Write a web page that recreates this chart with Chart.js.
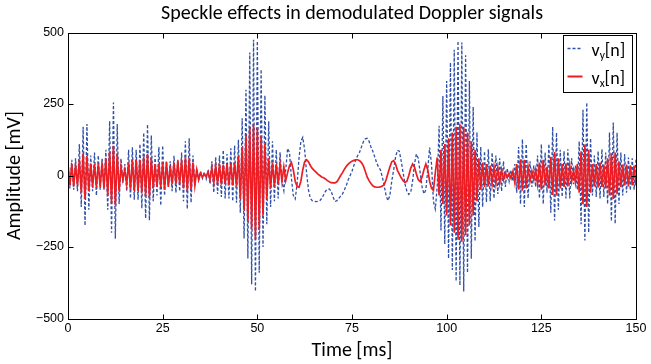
<!DOCTYPE html>
<html>
<head>
<meta charset="utf-8">
<title>Speckle effects in demodulated Doppler signals</title>
<script src="https://cdn.jsdelivr.net/npm/chart.js@4.4.1/dist/chart.umd.min.js"></script>
<style>
  html, body { margin: 0; padding: 0; background: #fff; }
  #wrap { width: 651px; height: 364px; }
</style>
</head>
<body>
<div id="wrap"><canvas id="dopplerChart" width="651" height="364"></canvas></div>
<script>
// --- Data ---

// sample grid: n = 0..300, one sample every 0.5 ms
const sampleStepMs = 0.5;
const timeMs = [];
for (let n = 0; n <= 300; n++) timeMs.push(n * sampleStepMs);

// v_y[n] in mV (blue dashed), 20 samples (10 ms) per row
const vyValues = [
    50, -45, 55, -50, 60, -55, 110, -110, 170, -175, 180, -120, 70, -55, 80, -70, 70, -50, 60, -50,
    90, -120, 190, -200, 255, -221, 180, -100, 60, -25, 40, -55, 90, -80, 99, -85, 90, -85, 110, -115,
    150, -150, 179, -157, 140, -90, 70, -70, 100, -105, 105, -70, 50, -35, 50, -55, 69, -60, 55, -55,
    80, -90, 120, -117, 130, -95, 70, -35, 25, -15, 15, -10, 12, -12, 20, -30, 50, -60, 65, -65,
    70, -75, 89, -80, 75, -80, 95, -90, 105, -95, 125, -130, 200, -220, 300, -290, 430, -380, 475, -405,
    470, -340, 371, -250, 280, -170, 190, -110, 120, -90, 90, -80, 81, -20, -53, 20, 95, 80, -10, -70,
    -82, -30, 60, 120, 133, 90, 10, -50, -80, -88, -90, -91, -90, -88, -80, -68, -55, -48, -47, -55,
    -75, -91, -88, -80, -72, -64, -50, -35, -15, 0, 15, 35, 55, 70, 81, 100, 118, 128, 130, 120,
    100, 85, 65, 45, 30, 20, -5, -35, -70, -88, -70, -20, 20, 65, 88, 85, 50, 10, -30, -55,
    -66, -60, -20, 40, 75, 60, 10, -40, -64, -50, 20, 98, 40, -90, -117, -40, 174, -192, 278, -240,
    330, -290, 395, -330, 440, -370, 470, -384, 465, -406, 420, -340, 330, -291, 240, -230, 151, -180, 100, -110,
    85, -93, 92, -90, 80, -80, 70, -65, 60, -55, 50, -40, 25, -20, 18, -20, 40, -60, 100, -100,
    127, -110, 110, -80, 50, -40, 35, -40, 70, -80, 110, -100, 80, -60, 110, -130, 170, -157, 150, -120,
    90, -75, 85, -80, 92, -80, 60, -30, 35, -50, 120, -170, 230, -227, 255, -200, 130, -70, 70, -75,
    85, -80, 92, -75, 80, -100, 150, -160, 185, -169, 150, -100, 80, -70, 75, -60, 63, -52, 60, -50,
    55
];

// v_x[n] in mV (red solid)
const vxValues = [
    38, -35, 40, -38, 38, -36, 55, -60, 78, -82, 70, -55, 42, -40, 40, -42, 42, -40, 45, -45,
    60, -70, 85, -95, 104, -105, 75, -55, 30, -15, 20, -30, 45, -50, 55, -55, 55, -55, 55, -60,
    65, -70, 75, -76, 60, -45, 40, -40, 42, -40, 45, -50, 48, -40, 32, -30, 45, -30, 52, -30,
    55, -45, 63, -53, 60, -50, 45, -35, 20, -15, 8, -6, 5, -5, 12, -15, 28, -25, 35, -30,
    40, -32, 38, -30, 40, -35, 42, -35, 45, -38, 70, -82, 100, -122, 140, -163, 165, -186, 178, -221,
    165, -190, 139, -140, 110, -82, 60, -45, 45, -38, 40, -30, 40, -20, 30, -18, 10, 35, 46, 20,
    -20, -38, -41, -20, 20, 48, 55, 48, 35, 25, 18, 12, 5, 0, -5, -8, -12, -18, -22, -25,
    -26, -26, -22, -12, 0, 10, 22, 32, 40, 46, 50, 53, 55, 55, 52, 45, 34, 15, -5, -18,
    -28, -36, -40, -41, -41, -40, -37, -32, -15, 8, 30, 48, 52, 40, 18, 5, -8, -18, -24, -20,
    0, 25, 40, 30, 5, -15, -21, -5, 20, 40, 20, -20, -45, -52, 10, 63, -70, 90, -100, 110,
    -140, 130, -175, 150, -200, 170, -225, 179, -232, 170, -209, 150, -175, 120, -140, 90, -90, 60, -50, 45,
    -40, 40, -38, 35, -30, 30, -28, 28, -25, 20, -15, 10, -8, 8, -10, 15, -25, 40, -50, 57,
    -53, 55, -45, 30, -20, 15, -15, 20, -30, 45, -50, 55, -35, 30, -45, 65, -68, 82, -70, 60,
    -45, 40, -40, 42, -38, 35, -20, 18, -25, 40, -60, 85, -100, 108, -110, 90, -60, 40, -38, 40,
    -42, 45, -40, 38, -45, 60, -70, 78, -82, 80, -65, 50, -40, 38, -35, 38, -38, 36, -35, 35,
    -35
];

// axis ticks
const xTicks = [0, 25, 50, 75, 100, 125, 150];
const yTicks = [-500, -250, 0, 250, 500];

const blue = '#2f50a8';
const red = '#ee1d23';
const textFont = 'Carlito, Lato, "DejaVu Sans", sans-serif';
const tickFont = '"Liberation Sans", Arial, sans-serif';

function toPoints(values) {
    return values.map((v, i) => ({ x: timeMs[i], y: v }));
}

// Box around the plot, MATLAB-style inward ticks and the legend with subscripts
const frameAndLegend = {
    id: 'frameAndLegend',
    afterDraw(chart) {
        let ctx = chart.ctx;
        let a = chart.chartArea;
        let xs = chart.scales.x;
        let ys = chart.scales.y;
        let left = Math.round(a.left) + 0.5;
        let right = Math.round(a.right) + 0.5;
        let top = Math.round(a.top) + 0.5;
        let bottom = Math.round(a.bottom) + 0.5;
        let tick = 5;

        ctx.save();
        ctx.strokeStyle = '#000';
        ctx.lineWidth = 1;
        ctx.setLineDash([]);
        ctx.strokeRect(left, top, right - left, bottom - top);

        ctx.beginPath();
        xTicks.forEach(v => {
            let px = Math.round(xs.getPixelForValue(v)) + 0.5;
            ctx.moveTo(px, bottom); ctx.lineTo(px, bottom - tick);
            ctx.moveTo(px, top); ctx.lineTo(px, top + tick);
        });
        yTicks.forEach(v => {
            let py = Math.round(ys.getPixelForValue(v)) + 0.5;
            ctx.moveTo(left, py); ctx.lineTo(left + tick, py);
            ctx.moveTo(right, py); ctx.lineTo(right - tick, py);
        });
        ctx.stroke();

        // legend
        let bx = right - 73;
        let by = top + 2;
        let bw = 69;
        let bh = 57;
        ctx.fillStyle = '#fff';
        ctx.fillRect(bx, by, bw, bh);
        ctx.strokeRect(bx, by, bw, bh);

        let entries = [
            { color: blue, dash: [3, 2], width: 1.5, sub: 'y', y: by + 13 },
            { color: red, dash: [], width: 2, sub: 'x', y: by + 41 }
        ];
        entries.forEach(e => {
            ctx.beginPath();
            ctx.strokeStyle = e.color;
            ctx.lineWidth = e.width;
            ctx.setLineDash(e.dash);
            ctx.moveTo(bx + 4, e.y);
            ctx.lineTo(bx + 19, e.y);
            ctx.stroke();
            ctx.setLineDash([]);

            ctx.fillStyle = '#000';
            ctx.textBaseline = 'alphabetic';
            ctx.textAlign = 'left';
            let tx = bx + 28;
            let base = e.y + 7;
            ctx.font = '18px ' + textFont;
            ctx.fillText('v', tx, base);
            tx += ctx.measureText('v').width;
            ctx.font = '11.5px ' + textFont;
            ctx.fillText(e.sub, tx, base + 3.5);
            tx += ctx.measureText(e.sub).width;
            ctx.font = '18px ' + textFont;
            ctx.fillText('[n]', tx, base);
        });
        ctx.restore();
    }
};

let dopplerCanvas = document.getElementById('dopplerChart').getContext('2d');

let dopplerChart = new Chart(dopplerCanvas, {
    type: 'line',
    data: {
        datasets: [
            {
                label: 'v_y[n]',
                data: toPoints(vyValues),
                borderColor: blue,
                borderWidth: 1.3,
                borderDash: [3, 2],
                pointRadius: 0,
                fill: false,
                tension: 0,
                order: 2
            },
            {
                label: 'v_x[n]',
                data: toPoints(vxValues),
                borderColor: red,
                borderWidth: 1.7,
                pointRadius: 0,
                fill: false,
                tension: 0,
                order: 1
            }
        ]
    },
    options: {
        responsive: false,
        animation: false,
        events: [],
        layout: { padding: { left: 0, right: 15, top: 0, bottom: 0 } },
        plugins: {
            legend: { display: false },
            tooltip: { enabled: false },
            title: {
                display: true,
                fullSize: false, // centre over the plot box, as MATLAB does
                text: 'Speckle effects in demodulated Doppler signals',
                color: '#000',
                font: { family: textFont, size: 20, weight: 'normal', lineHeight: 1.2 },
                padding: { top: 2, bottom: 6.5 }
            }
        },
        scales: {
            x: {
                type: 'linear',
                min: 0,
                max: 150,
                grid: { display: false, drawTicks: false },
                border: { display: false },
                afterBuildTicks: scale => { scale.ticks = xTicks.map(v => ({ value: v })); },
                afterFit: scale => { scale.height = 45.5; },
                ticks: {
                    color: '#000',
                    padding: 3,
                    maxRotation: 0,
                    font: { family: tickFont, size: 12.5 }
                },
                title: {
                    display: true,
                    text: 'Time [ms]',
                    color: '#000',
                    font: { family: textFont, size: 20, lineHeight: 1.2 },
                    padding: { top: 1, bottom: 1 }
                }
            },
            y: {
                type: 'linear',
                min: -500,
                max: 500,
                grid: { display: false, drawTicks: false },
                border: { display: false },
                afterBuildTicks: scale => { scale.ticks = yTicks.map(v => ({ value: v })); },
                afterFit: scale => { scale.width = 68; },
                ticks: {
                    color: '#000',
                    padding: 4,
                    font: { family: tickFont, size: 12.5 },
                    callback: value => String(value).replace('-', '\u2212')
                },
                title: {
                    display: true,
                    text: 'Amplitude [mV]',
                    color: '#000',
                    font: { family: textFont, size: 20, lineHeight: 1.2 },
                    padding: { top: 3, bottom: 3 }
                }
            }
        }
    },
    plugins: [frameAndLegend]
});
</script>
</body>
</html>
